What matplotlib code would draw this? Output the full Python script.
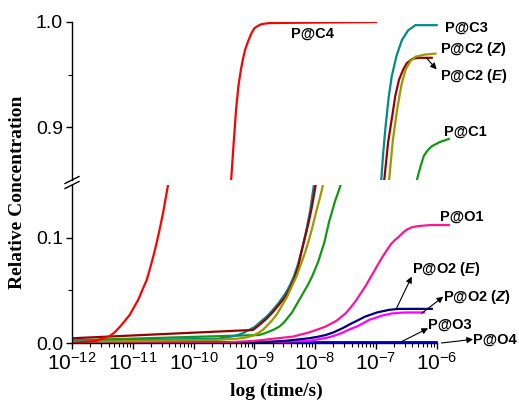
import numpy as np
import matplotlib
matplotlib.use('Agg')
import matplotlib.pyplot as plt
from matplotlib.lines import Line2D
from matplotlib.ticker import FixedLocator, LogFormatterSciNotation, FormatStrFormatter

plt.rcParams['font.family'] = ['Liberation Sans', 'DejaVu Sans']
plt.rcParams['mathtext.fontset'] = 'custom'
plt.rcParams['mathtext.rm'] = 'Liberation Sans'
plt.rcParams['mathtext.it'] = 'Liberation Sans:italic'
plt.rcParams['mathtext.bf'] = 'Liberation Sans:bold'
plt.rcParams['mathtext.bfit'] = 'Liberation Sans:italic:bold'

# log10(time/s) and relative concentration for each species
c4_logt = [-12, -11.6, -11.49, -11.43, -11.375, -11.3, -11.21, -11.13, -11.05, -10.98, -10.91, -10.83,
           -10.77, -10.71, -10.65, -10.6, -10.55, -10.5, -10.46, -10.42,
           -10.2, -10.0, -9.8, -9.6, -9.45, -9.38, -9.34, -9.30, -9.26, -9.22, -9.19, -9.15, -9.10,
           -9.05, -9.0, -8.95, -8.88, -8.75, -7.0]
c4_conc = [0.0, 0.002, 0.0045, 0.0055, 0.0067, 0.010, 0.0155, 0.021, 0.0267, 0.034, 0.041, 0.052,
           0.060, 0.072, 0.085, 0.097, 0.11, 0.124, 0.137, 0.150,
           0.26, 0.40, 0.56, 0.71, 0.80, 0.851, 0.885, 0.917, 0.940, 0.955, 0.964, 0.974, 0.982,
           0.989, 0.994, 0.996, 0.998, 0.999, 1.0]

c3_logt = [-12, -9.6, -9.3, -9.2, -9.1, -9.0, -8.9, -8.8, -8.7, -8.6, -8.5, -8.43, -8.35, -8.28,
           -8.2, -8.14, -8.08, -8.02,
           -7.8, -7.6, -7.4, -7.2, -7.0, -6.91, -6.88, -6.84, -6.79, -6.74, -6.66, -6.57, -6.47,
           -6.35, -6.0]
c3_conc = [0.002, 0.004, 0.007, 0.009, 0.012, 0.015, 0.020, 0.025, 0.031, 0.038, 0.046, 0.053, 0.063,
           0.075, 0.093, 0.108, 0.126, 0.150,
           0.26, 0.40, 0.56, 0.70, 0.81, 0.851, 0.875, 0.901, 0.928, 0.948, 0.968, 0.983, 0.992,
           0.997, 0.997]

c2e_logt = [-12, -9.02, -8.9, -8.8, -8.7, -8.6, -8.5, -8.43, -8.35, -8.28, -8.21, -8.15, -8.1,
            -8.05, -7.99,
            -7.8, -7.6, -7.4, -7.2, -7.0, -6.86, -6.80, -6.73, -6.68, -6.62, -6.55, -6.49, -6.40,
            -6.30, -6.08]
c2e_conc = [0.0045, 0.0124, 0.018, 0.023, 0.029, 0.036, 0.043, 0.050, 0.060, 0.072, 0.090, 0.104,
            0.116, 0.130, 0.150,
            0.25, 0.40, 0.55, 0.70, 0.80, 0.851, 0.885, 0.911, 0.930, 0.945, 0.955, 0.961, 0.965,
            0.966, 0.966]

c2z_logt = [-12, -9.6, -9.3, -9.15, -9.02, -8.92, -8.85, -8.78, -8.7, -8.62, -8.55, -8.46, -8.38,
            -8.3, -8.25, -8.17, -8.1, -8.04, -7.98, -7.92, -7.87,
            -7.7, -7.5, -7.3, -7.1, -6.9, -6.78, -6.72, -6.65, -6.58, -6.51, -6.43, -6.35, -6.2,
            -6.02]
c2z_conc = [0.001, 0.003, 0.004, 0.005, 0.007, 0.010, 0.013, 0.017, 0.022, 0.028, 0.035, 0.044,
            0.054, 0.064, 0.072, 0.085, 0.098, 0.111, 0.125, 0.138, 0.150,
            0.25, 0.40, 0.56, 0.70, 0.80, 0.851, 0.888, 0.917, 0.940, 0.955, 0.963, 0.967, 0.969,
            0.970]

c1_logt = [-12, -8.92, -8.84, -8.75, -8.67, -8.59, -8.52, -8.45, -8.38, -8.32, -8.26, -8.2, -8.12,
           -8.05, -7.95, -7.9, -7.85, -7.81, -7.77, -7.72, -7.67, -7.62, -7.58,
           -7.4, -7.2, -7.0, -6.8, -6.55, -6.32, -6.27, -6.21, -6.15, -6.08, -5.95, -5.80]
c1_conc = [0.0025, 0.0076, 0.009, 0.011, 0.013, 0.0155, 0.019, 0.024, 0.029, 0.035, 0.041, 0.047,
           0.055, 0.063, 0.077, 0.086, 0.095, 0.105, 0.115, 0.125, 0.135, 0.143, 0.150,
           0.25, 0.40, 0.56, 0.70, 0.80, 0.851, 0.862, 0.873, 0.878, 0.882, 0.886, 0.889]

o1_logt = [-12, -9.5, -9.0, -8.7, -8.37, -8.1, -7.95, -7.83, -7.65, -7.5, -7.41, -7.33, -7.25,
           -7.17, -7.1, -7.03, -6.96, -6.90, -6.82, -6.75, -6.68, -6.62, -6.55, -6.48, -6.40,
           -6.30, -6.1, -5.80]
o1_conc = [0.0, 0.0005, 0.002, 0.004, 0.006, 0.010, 0.013, 0.0155, 0.021, 0.028, 0.034, 0.040,
           0.047, 0.054, 0.061, 0.068, 0.075, 0.081, 0.088, 0.094, 0.098, 0.101, 0.105, 0.108,
           0.110, 0.111, 0.112, 0.112]

o2e_logt = [-12, -9.0, -8.5, -8.1, -7.95, -7.83, -7.7, -7.55, -7.42, -7.28, -7.18, -7.08, -6.98,
            -6.9, -6.78, -6.62, -6.08]
o2e_conc = [0.0, 0.0005, 0.002, 0.0045, 0.006, 0.0075, 0.010, 0.014, 0.018, 0.022, 0.025, 0.027,
            0.029, 0.030, 0.0315, 0.0324, 0.0324]

o2z_logt = [-12, -8.8, -8.1, -7.8, -7.68, -7.56, -7.43, -7.3, -7.2, -7.11, -7.0, -6.9, -6.8,
            -6.74, -6.6, -6.5, -6.21]
o2z_conc = [0.0, 0.0005, 0.002, 0.005, 0.007, 0.0095, 0.013, 0.016, 0.019, 0.022, 0.024, 0.026,
            0.0272, 0.028, 0.0287, 0.029, 0.029]

o3_logt = [-12, -6.0]
o3_conc = [0.0006, 0.0008]
o4_logt = [-12, -6.0]
o4_conc = [0.0002, 0.0003]

series = [
    (o4_logt, o4_conc, '#0000FF'),
    (o3_logt, o3_conc, '#0000FF'),
    (o2z_logt, o2z_conc, '#FF00FF'),
    (o2e_logt, o2e_conc, '#000080'),
    (o1_logt, o1_conc, '#FF1493'),
    (c1_logt, c1_conc, '#119911'),
    (c3_logt, c3_conc, '#008B8B'),
    (c2e_logt, c2e_conc, '#990000'),
    (c2z_logt, c2z_conc, '#999900'),
    (c4_logt, c4_conc, '#FF0000'),
]

W, H = 519, 401
fig = plt.figure(figsize=(W / 100, H / 100), dpi=100)


def fx(px):
    return px / W


def fy(py):
    return 1 - py / H


left, right = fx(72), fx(450)
ax_top = fig.add_axes([left, fy(180), right - left, fy(22) - fy(180)])
ax_bot = fig.add_axes([left, fy(343), right - left, fy(185) - fy(343)])

for ax in (ax_top, ax_bot):
    for lt, c, col in series:
        ax.plot(10.0 ** np.array(lt), c, color=col, lw=1.6, solid_joinstyle='round')
    ax.set_xscale('log')
    ax.set_xlim(1e-12, 10 ** -5.78)
    ax.spines['top'].set_visible(False)
    ax.spines['right'].set_visible(False)
    ax.spines['left'].set_linewidth(1.0)
    ax.spines['bottom'].set_linewidth(1.0)
    ax.tick_params(which='major', direction='out', length=4.5, width=1.0)
    ax.tick_params(which='minor', direction='out', length=2.8, width=0.8)
    ax.tick_params(axis='y', labelsize=14, pad=2)
    ax.tick_params(axis='x', labelsize=15, pad=2)
    ax.patch.set_alpha(0)

ax_top.set_ylim(0.85, 1.0)
ax_top.spines['bottom'].set_visible(False)
ax_top.tick_params(axis='x', which='both', bottom=False, labelbottom=False)
ax_top.yaxis.set_major_locator(FixedLocator([0.9, 1.0]))
ax_top.yaxis.set_minor_locator(FixedLocator([0.95]))
ax_top.yaxis.set_major_formatter(FormatStrFormatter('%.1f'))

ax_bot.set_ylim(0.0, 0.15)
ax_bot.spines['bottom'].set_bounds(1e-12, 1e-6)
ax_bot.yaxis.set_major_locator(FixedLocator([0.0, 0.1]))
ax_bot.yaxis.set_minor_locator(FixedLocator([0.05]))
ax_bot.yaxis.set_major_formatter(FormatStrFormatter('%.1f'))
decades = np.arange(-12, -5)
ax_bot.xaxis.set_major_locator(FixedLocator(10.0 ** decades))
ax_bot.xaxis.set_major_formatter(LogFormatterSciNotation())
minors = [m * 10.0 ** d for d in decades[:-1] for m in range(2, 10)]
ax_bot.xaxis.set_minor_locator(FixedLocator(minors))

fig.text(fx(276), fy(391), 'log (time/s)', family='Liberation Serif', weight='bold',
         fontsize=14, ha='center', va='center')
fig.text(fx(18), fy(192), 'Relative Concentration', family='Liberation Serif', weight='bold',
         fontsize=14, rotation=90, ha='center', va='center')

# axis break marks
for dy in (-2.5, 2.5):
    fig.add_artist(Line2D([fx(65), fx(79)], [fy(186 + dy), fy(179 + dy)], color='black', lw=1.0))

lab = dict(fontsize=10.5, weight='bold', va='center', ha='left')
arw = dict(arrowstyle='-|>', color='black', lw=0.8, mutation_scale=9, shrinkA=0, shrinkB=0)

ax_top.text(10 ** -8.04, 0.9887, 'P@C4', ha='center', va='center', fontsize=10.5, weight='bold')
ax_top.text(10 ** -5.87, 0.995, 'P@C3', **lab)
ax_top.text(10 ** -5.95, 0.974, r'P@C2 ($\mathbfit{Z}$)', **lab)
ax_top.text(10 ** -5.95, 0.949, r'P@C2 ($\mathbfit{E}$)', **lab)
ax_top.annotate('', xy=(10 ** -6.0, 0.955), xytext=(10 ** -6.17, 0.966), arrowprops=arw,
                annotation_clip=False)
ax_top.text(10 ** -5.88, 0.896, 'P@C1', **lab)

ax_bot.text(10 ** -5.95, 0.120, 'P@O1', **lab)
ax_bot.text(10 ** -6.41, 0.070, r'P@O2 ($\mathbfit{E}$)', **lab)
ax_bot.annotate('', xy=(10 ** -6.41, 0.063), xytext=(10 ** -6.66, 0.033), arrowprops=arw,
                annotation_clip=False)
ax_bot.text(10 ** -5.89, 0.0435, r'P@O2 ($\mathbfit{Z}$)', **lab)
ax_bot.annotate('', xy=(10 ** -5.89, 0.044), xytext=(10 ** -6.25, 0.028), arrowprops=arw,
                annotation_clip=False)
ax_bot.text(10 ** -6.14, 0.017, 'P@O3', **lab)
ax_bot.annotate('', xy=(10 ** -6.14, 0.014), xytext=(10 ** -6.58, 0.0012), arrowprops=arw,
                annotation_clip=False)
ax_bot.text(10 ** -5.40, 0.0035, 'P@O4', **lab)
ax_bot.annotate('', xy=(10 ** -5.40, 0.0035), xytext=(10 ** -5.92, 0.0), arrowprops=arw,
                annotation_clip=False)

fig.savefig('out.png', dpi=100)
